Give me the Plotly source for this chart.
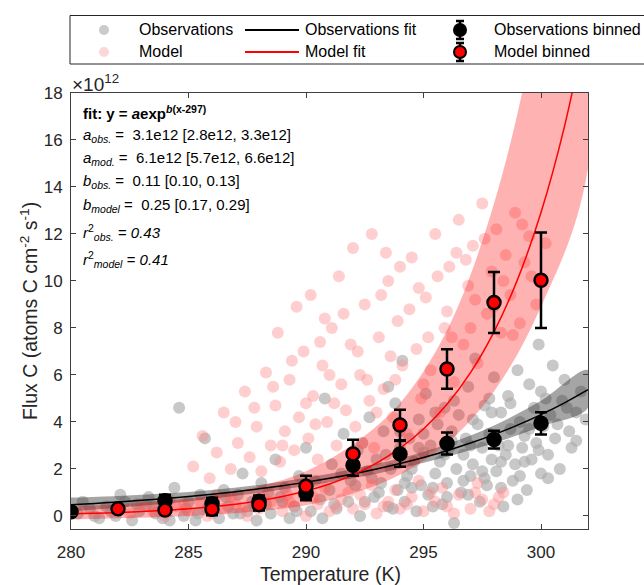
import plotly.graph_objects as go

# ---------------- data (units of 1e12 atoms C cm^-2 s^-1) ----------------
obs_T = [280.3, 280.8, 281.2, 281.5, 281.9, 282.3, 282.6, 282.9, 283.3, 283.6, 283.9, 283.2,
         284.1, 284.4, 284.6, 284.8, 285.0, 285.3, 285.5, 285.7, 285.8, 286.1, 286.3, 286.5, 286.7, 286.9,
         287.1, 287.3, 287.5, 287.7, 287.9, 288.1, 288.3, 288.5, 288.7, 288.9, 289.1, 289.3, 289.5, 289.7, 289.9, 290.0,
         290.2, 290.4, 290.6, 290.8, 291.0, 291.1, 291.3, 291.5, 291.6, 291.8, 292.0, 292.1,
         292.3, 292.4, 292.6, 292.7, 292.9, 293.0, 293.2, 293.3, 293.5, 293.6, 293.8, 293.9, 294.0, 294.1, 294.2,
         294.3, 294.4, 294.6, 294.7, 294.8, 294.9, 295.0, 295.1, 295.2, 295.3, 295.5, 295.6, 295.7, 295.8, 295.9, 296.0, 296.1, 296.2,
         296.3, 296.4, 296.5, 296.6, 296.7, 296.8, 296.9, 297.0, 297.1, 297.2, 297.3, 297.4, 297.5, 297.6, 297.7, 297.8, 297.9, 298.0, 298.1,
         298.2, 298.3, 298.4, 298.5, 298.6, 298.7, 298.8, 298.9, 299.0, 299.1, 299.2, 299.3, 299.4, 299.5, 299.6, 299.7, 299.8, 299.9, 300.0,
         300.1, 300.2, 300.3, 300.4, 300.5, 300.6, 300.8, 300.9, 301.0, 301.2, 301.3, 301.5, 301.7,
         280.5, 281.0, 281.7, 282.1, 282.8, 283.5, 284.2, 284.9, 285.4, 286.0, 286.6, 287.2, 287.8, 288.4, 289.0,
         289.6, 290.1, 290.7, 291.2, 291.9, 292.5, 293.1, 293.7, 294.5, 295.4, 296.0, 296.9, 297.6, 298.3, 299.0,
         292.2, 292.8, 293.4, 294.0, 294.5, 295.0, 295.4, 295.9, 296.3, 296.7, 297.1, 297.5, 297.9, 298.3, 298.7,
         299.1, 299.5, 299.9, 300.3, 300.7, 301.1, 301.5, 301.9, 300.0, 299.3, 298.6, 297.8, 297.0, 296.2, 295.5,
         294.8, 294.2, 293.5]
obs_V = [0.1, 0.3, -0.1, 0.4, 0.0, 0.6, -0.2, 0.2, 0.8, 0.1, -0.1, 0.45,
         0.3, 1.2, 4.6, 0.0, 0.6, -0.2, 0.9, 3.3, 0.3, 0.7, -0.1, 1.1, 0.4, 0.1,
         0.9, 1.8, 0.2, 0.6, -0.2, 1.4, 0.5, 0.1, 2.4, 0.8, 1.2, -0.1, 0.4, 1.7, 0.9, 2.9,
         0.2, 1.5, 0.7, 5.0, 1.1, 2.2, 0.3, 1.8, 3.5, 0.6, 2.6, 1.3,
         0.0, 3.1, 1.9, 4.2, 0.8, 2.4, 1.4, 3.6, 0.4, 2.0, 4.8, 1.1, 2.9, 6.6, 0.6,
         1.7, 3.3, 2.3, 0.2, 4.1, 1.3, 2.7, 5.2, 0.9, 3.0, 1.8, 3.9, 2.3, 0.5, 4.6, 1.4, 2.9, 3.6,
         -0.3, 2.0, 4.3, 1.0, 2.6, 3.3, 5.5, 1.7, 2.2, 6.7, 3.9, 0.6, 2.9, 4.7, 1.3, 3.5, 2.4, 5.9, 1.9,
         3.0, 4.4, 0.4, 2.6, 5.1, 3.7, 1.5, 2.2, 6.2, 4.0, 2.9, 3.4, 1.1, 5.6, 2.4, 4.6, 3.1, 7.3, 1.8,
         3.8, 5.0, 2.6, 4.3, 6.4, 3.3, 2.0, 4.9, 5.8, 3.6, 2.9, 4.4, 5.3,
         0.6, 0.0, 0.2, 0.9, 0.5, 0.4, -0.2, 0.3, 0.1, 0.4, 0.8, 0.1, 0.4, 1.0, 0.6,
         0.2, 1.0, -0.1, 0.5, 1.5, 0.6, 1.0, 0.3, 1.2, 0.4, 0.8, 0.9, 1.6, 1.2, 0.7,
         2.8, 1.6, 2.6, 3.6, 2.0, 3.5, 1.2, 2.6, 4.9, 1.5, 4.1, 1.9, 4.4, 2.3, 4.8,
         1.7, 3.7, 2.8, 1.6, 3.9, 4.6, 3.2, 4.1, 5.3, 2.3, 3.0, 5.0, 3.0, 3.2, 4.4,
         2.9, 1.4, 5.5]

mod_T = [282.0, 282.5, 283.0, 283.5, 284.0, 284.5, 285.0, 285.5, 286.0, 286.5, 287.0, 287.5, 288.0, 288.5,
         289.0, 289.5, 290.0, 290.5, 291.0, 291.5, 292.0, 292.5, 293.0, 293.5, 294.0, 294.5, 295.0, 295.5,
         296.0, 296.5, 297.0, 297.5, 298.0, 298.4,
         284.2, 286.8, 289.2, 291.8, 293.8, 295.8, 297.3,
         285.2, 285.6, 285.9, 286.2, 286.5, 286.8, 287.1, 287.4, 287.6, 287.9, 288.1, 288.3, 288.5, 288.7, 288.9,
         289.1, 289.3, 289.5, 289.7, 289.9, 290.1, 290.3, 290.5, 290.7, 290.9, 291.1, 291.3, 291.5, 291.7, 291.9,
         292.1, 292.3, 292.5, 292.7, 292.9, 293.1, 293.3, 293.5, 293.7, 293.9, 294.1, 294.3, 294.5, 294.7, 294.9,
         295.1, 295.3, 295.5, 295.7, 295.9, 296.1, 296.3, 296.5, 296.7, 296.9, 297.1, 297.3, 297.5, 297.7, 297.9,
         298.1, 298.3, 298.5, 298.7, 298.9, 299.1, 299.3, 299.5, 299.8, 300.2,
         288.8, 289.6, 290.2, 291.4, 290.8, 292.0, 292.8, 293.4,
         283.8, 284.8, 285.8, 286.2, 287.3, 288.2, 289.3, 290.3, 291.3, 292.3, 293.3, 294.3, 295.3, 296.3,
         297.2, 297.8, 298.2, 290.8, 292.8, 294.8,
         287.0, 287.8, 288.6, 289.4, 290.0, 290.6, 291.0, 291.6, 292.2, 292.6, 293.2, 293.6, 294.0, 294.4,
         294.8, 295.2, 295.6, 296.0, 296.4, 296.8, 297.2, 297.6, 298.0, 298.4, 298.8, 299.2, 299.6,
         289.0, 290.4, 291.2, 292.4, 293.0, 293.8, 295.0, 296.2, 297.0]
mod_V = [0.3, 0.1, 0.5, 0.2, 0.0, 0.4, 0.2, 0.6, 0.1, 0.3, 0.5, 0.0, 0.3, 0.6,
         0.2, 0.4, 0.0, 0.5, 0.2, 0.7, 0.3, 0.5, 0.1, 0.6, 0.3, 0.8, 0.2, 0.6,
         0.4, 0.9, 0.3, 0.7, 0.5, 1.0,
         0.7, 0.8, 0.9, 1.0, 1.1, 1.2, 1.4,
         2.1, 3.4, 1.6, 2.7, 4.4, 2.0, 3.1, 5.3, 2.5, 3.8, 1.9, 6.1, 3.0, 4.7, 2.3,
         3.6, 5.8, 2.8, 4.2, 7.0, 3.3, 5.1, 2.4, 6.4, 4.0, 8.0, 3.0, 5.6, 4.5, 7.3,
         3.8, 6.0, 9.0, 4.9, 2.9, 7.6, 5.4, 10.0, 4.2, 8.3, 6.4, 3.5, 11.0, 7.1, 5.0,
         9.3, 6.2, 12.0, 4.4, 8.0, 10.6, 5.7, 12.6, 7.3, 9.8, 11.5, 6.5, 13.3, 8.6, 10.4,
         12.2, 7.8, 11.1, 9.4, 12.9, 8.2, 10.8, 11.9, 9.0, 11.6,
         7.8, 8.9, 9.4, 10.2, 8.4, 11.4, 12.0, 11.2,
         0.2, 0.5, 0.0, 0.9, 0.3, 0.8, 0.6, 0.8, 0.4, 0.9, 0.4, 0.5, 1.0, 0.1,
         1.0, 0.2, 0.8, 1.2, 1.3, 1.5,
         4.0, 4.6, 5.5, 6.6, 4.8, 7.4, 6.0, 8.6, 7.0, 5.8, 9.4, 6.8, 10.6, 8.8,
         9.7, 7.6, 10.2, 8.7, 11.2, 10.9, 9.2, 11.8, 8.9, 10.0, 7.7, 12.4, 10.2,
         3.0, 3.9, 4.8, 3.1, 4.4, 5.8, 5.6, 7.6, 8.0]

# fitted curves y = a*exp(b*(x-297)), tabulated at 1 K steps
fit_T = list(range(280, 303))
obs_fit = [0.478, 0.533, 0.595, 0.665, 0.742, 0.828, 0.924, 1.032, 1.152, 1.286, 1.435, 1.602,
           1.788, 1.996, 2.229, 2.488, 2.777, 3.100, 3.460, 3.863, 4.312, 4.813, 5.373]
mod_fit = [0.087, 0.112, 0.143, 0.184, 0.237, 0.304, 0.390, 0.501, 0.643, 0.826, 1.060, 1.361,
           1.748, 2.244, 2.881, 3.700, 4.751, 6.100, 7.833, 10.057, 12.914, 16.582, 21.291]

# confidence bands
band_T = [280, 282, 284, 286, 288, 290, 292, 294, 296, 298, 300, 302]
obs_upper = [0.78, 0.85, 0.95, 1.10, 1.32, 1.62, 2.00, 2.45, 3.05, 3.85, 4.90, 6.20]
obs_lower = [0.20, 0.35, 0.52, 0.73, 0.98, 1.27, 1.60, 2.02, 2.52, 3.10, 3.80, 4.60]
mod_upper = [0.40, 0.50, 0.65, 0.85, 1.25, 1.90, 3.05, 4.80, 7.90, 13.3, 22.0, 36.0]
mod_lower = [-0.15, -0.10, -0.05, 0.05, 0.20, 0.45, 0.95, 1.75, 3.10, 5.30, 8.90, 14.8]

# binned means with error
obs_bin_T = [280, 284, 286, 288, 290, 292, 294, 296, 298, 300]
obs_bin_V = [0.18, 0.65, 0.52, 0.62, 0.95, 2.16, 2.64, 3.08, 3.25, 3.94]
obs_bin_err = [0.12, 0.25, 0.25, 0.25, 0.28, 0.45, 0.55, 0.47, 0.38, 0.47]
mod_bin_T = [282, 284, 286, 288, 290, 292, 294, 296, 298, 300]
mod_bin_V = [0.30, 0.25, 0.28, 0.48, 1.26, 2.64, 3.87, 6.25, 9.08, 10.03]
mod_bin_err = [0.12, 0.15, 0.25, 0.25, 0.45, 0.60, 0.65, 0.84, 1.30, 2.03]

x_ticks = [280, 285, 290, 295, 300]
y_ticks = [0, 2, 4, 6, 8, 10, 12, 14, 16, 18]

FONT = "Liberation Sans, Arial, Helvetica, sans-serif"
TXT = "#262626"

# ---------------- geometry ----------------
W, H = 644, 585
PL, PR, PT, PB = 71, 588, 93, 529


def px(x):
    return (x - PL) / (PR - PL)


def py(y):
    return (PB - y) / (PB - PT)


fig = go.Figure()

fig.add_trace(go.Scatter(x=obs_T, y=obs_V, mode="markers",
                         marker=dict(size=12, color="rgba(170,170,170,0.65)", line=dict(width=0)),
                         showlegend=False, hoverinfo="skip"))
fig.add_trace(go.Scatter(x=mod_T, y=mod_V, mode="markers",
                         marker=dict(size=12, color="rgba(255,140,140,0.42)", line=dict(width=0)),
                         showlegend=False, hoverinfo="skip"))

fig.add_trace(go.Scatter(x=band_T + band_T[::-1], y=obs_upper + obs_lower[::-1],
                         fill="toself", fillcolor="rgba(40,40,40,0.42)", mode="lines",
                         line=dict(width=0, shape="spline"), showlegend=False, hoverinfo="skip"))
fig.add_trace(go.Scatter(x=band_T + band_T[::-1], y=mod_upper + mod_lower[::-1],
                         fill="toself", fillcolor="rgba(255,0,0,0.3)", mode="lines",
                         line=dict(width=0, shape="spline"), showlegend=False, hoverinfo="skip"))

fig.add_trace(go.Scatter(x=fit_T, y=obs_fit, mode="lines",
                         line=dict(color="black", width=1.5, shape="spline"),
                         showlegend=False, hoverinfo="skip"))
fig.add_trace(go.Scatter(x=fit_T, y=mod_fit, mode="lines",
                         line=dict(color="red", width=1.5, shape="spline"),
                         showlegend=False, hoverinfo="skip"))

fig.add_trace(go.Scatter(x=obs_bin_T, y=obs_bin_V, mode="markers",
                         marker=dict(size=14, color="black", line=dict(color="black", width=1.5)),
                         error_y=dict(type="data", array=obs_bin_err, color="black", thickness=2.5, width=6),
                         showlegend=False, hoverinfo="skip"))
fig.add_trace(go.Scatter(x=mod_bin_T, y=mod_bin_V, mode="markers",
                         marker=dict(size=13, color="red", line=dict(color="black", width=2.5)),
                         error_y=dict(type="data", array=mod_bin_err, color="black", thickness=2.5, width=6),
                         showlegend=False, hoverinfo="skip"))

# ---------------- legend (drawn) ----------------
shapes = []
shapes.append(dict(type="rect", xref="paper", yref="paper", x0=px(70), x1=px(700), y0=py(64), y1=py(15.5),
                   line=dict(color=TXT, width=1), fillcolor="white", layer="above"))


def circ(cx, cy, r, fill, lc=None, lw=0):
    return dict(type="circle", xref="paper", yref="paper", x0=px(cx - r), x1=px(cx + r),
                y0=py(cy + r), y1=py(cy - r), fillcolor=fill,
                line=dict(color=lc or fill, width=lw), layer="above")


def seg(x0, y0, x1, y1, color, w):
    return dict(type="line", xref="paper", yref="paper", x0=px(x0), x1=px(x1), y0=py(y0), y1=py(y1),
                line=dict(color=color, width=w), layer="above")


R1, R2 = 30, 52
shapes.append(circ(104, R1, 5, "#cbcbcb"))
shapes.append(circ(104, R2, 5, "#fad8d8"))
shapes.append(seg(245, R1, 299, R1, "black", 2))
shapes.append(seg(245, R2, 299, R2, "red", 2))
for ry, fc in [(R1, "black"), (R2, "red")]:
    shapes.append(seg(460, ry - 9, 460, ry + 9, "black", 2.5))
    shapes.append(seg(456, ry - 9, 464, ry - 9, "black", 2.5))
    shapes.append(seg(456, ry + 9, 464, ry + 9, "black", 2.5))
    shapes.append(circ(460, ry, 6, fc, "black", 2))

annotations = []
for xx, yy, t in [(137, R1, "Observations"), (137, R2, "Model"),
                  (303, R1, "Observations fit"), (303, R2, "Model fit"),
                  (492, R1, "Observations binned"), (492, R2, "Model binned")]:
    annotations.append(dict(x=px(xx), y=py(yy), xref="paper", yref="paper", text=t, showarrow=False,
                            xanchor="left", yanchor="middle", font=dict(family=FONT, size=16, color="black")))

# ---------------- fit text ----------------
fit_lines = [
    (112, "<b>fit: y = <i>a</i>exp<sup><i>b</i>(x-297)</sup></b>"),
    (135, "<i>a</i><sub><i>obs.</i></sub> =  3.1e12 [2.8e12, 3.3e12]"),
    (158, "<i>a</i><sub><i>mod.</i></sub> =  6.1e12 [5.7e12, 6.6e12]"),
    (181, "<i>b</i><sub><i>obs.</i></sub> =  0.11 [0.10, 0.13]"),
    (205, "<i>b</i><sub><i>model</i></sub> =  0.25 [0.17, 0.29]"),
    (233, "<i>r</i><sup>2</sup><sub><i>obs.</i></sub><i> = 0.43</i>"),
    (259, "<i>r</i><sup>2</sup><sub><i>model</i></sub><i> = 0.41</i>"),
]
for yy, t in fit_lines:
    annotations.append(dict(x=px(81), y=py(yy), xref="paper", yref="paper", text=t, showarrow=False,
                            xanchor="left", yanchor="middle", font=dict(family=FONT, size=15, color="black")))

# exponent label and axis titles
annotations.append(dict(x=px(70), y=py(83), xref="paper", yref="paper", text="×10<sup>12</sup>",
                        showarrow=False, xanchor="left", yanchor="middle",
                        font=dict(family=FONT, size=19, color=TXT)))
annotations.append(dict(x=px(330), y=py(574), xref="paper", yref="paper", text="Temperature (K)",
                        showarrow=False, xanchor="center", yanchor="middle",
                        font=dict(family=FONT, size=19.5, color=TXT)))
annotations.append(dict(x=px(29), y=py(311), xref="paper", yref="paper",
                        text="Flux C (atoms C cm<sup>-2</sup> s<sup>-1</sup>)", textangle=-90,
                        showarrow=False, xanchor="center", yanchor="middle",
                        font=dict(family=FONT, size=19.5, color=TXT)))

axis_common = dict(showline=True, linecolor="#404040", linewidth=1, mirror="ticks",
                   ticks="inside", ticklen=5, tickwidth=1, tickcolor="#404040",
                   showgrid=False, zeroline=False,
                   tickfont=dict(family=FONT, size=17, color=TXT))

fig.update_layout(
    width=W, height=H,
    margin=dict(l=PL, r=W - PR, t=PT, b=H - PB),
    paper_bgcolor="white", plot_bgcolor="white",
    xaxis=dict(range=[280, 302], tickvals=x_ticks, ticktext=[str(v) for v in x_ticks],
               ticklabelstandoff=8, **axis_common),
    yaxis=dict(range=[-0.557, 18], tickvals=y_ticks, ticktext=[str(v) for v in y_ticks],
               ticklabelstandoff=4, **axis_common),
    shapes=shapes, annotations=annotations, showlegend=False,
)

fig.write_html("out.html")
